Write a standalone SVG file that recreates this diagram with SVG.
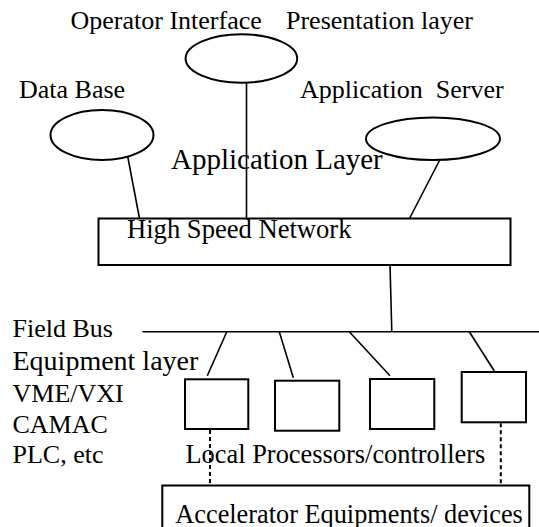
<svg xmlns="http://www.w3.org/2000/svg" width="539" height="527" viewBox="0 0 539 527">
<defs>
<style>
.shape{fill:#fff;stroke:#000;stroke-width:2}
.ln{stroke:#000;stroke-width:1.6;fill:none}
.dash{stroke:#000;stroke-width:2;stroke-dasharray:4 3;fill:none}
</style>
</defs>
<rect width="539" height="527" fill="#fff"/>
<g id="labels">
<text font-family="Liberation Serif" font-size="26" x="70.5" y="29">Operator Interface</text>
<text font-family="Liberation Serif" font-size="26" x="286" y="29">Presentation layer</text>
<text font-family="Liberation Serif" font-size="26" x="19" y="97.5">Data Base</text>
<text font-family="Liberation Serif" font-size="26" x="300" y="98" xml:space="preserve">Application  Server</text>
<text font-family="Liberation Serif" font-size="26" x="12.5" y="336.5">Field Bus</text>
<text font-family="Liberation Serif" font-size="28" x="12.5" y="369.5">Equipment layer</text>
<text font-family="Liberation Serif" font-size="26" x="12.5" y="401.5">VME/VXI</text>
<text font-family="Liberation Serif" font-size="26" x="12.5" y="433">CAMAC</text>
<text font-family="Liberation Serif" font-size="26" x="12.5" y="462.5">PLC, etc</text>
<text font-family="Liberation Serif" font-size="26.4" x="185.5" y="462.5">Local Processors/controllers</text>
</g>
<g id="connectors">
<line class="ln" x1="246.5" y1="82.5" x2="246.5" y2="218.5"/>
<line class="ln" x1="127.8" y1="157" x2="139.5" y2="218.5"/>
<line class="ln" x1="440" y1="159.5" x2="409.5" y2="218.5"/>
<line class="ln" x1="390" y1="265" x2="391.8" y2="331.7"/>
<line class="ln" x1="142.5" y1="331.7" x2="539" y2="331.7"/>
<line class="ln" x1="226.8" y1="331.7" x2="207.3" y2="375.7"/>
<line class="ln" x1="279.3" y1="331.7" x2="293.3" y2="377.7"/>
<line class="ln" x1="349.3" y1="331.7" x2="390" y2="375.7"/>
<line class="ln" x1="469.3" y1="331.7" x2="494.3" y2="371"/>
<line class="dash" x1="210" y1="430" x2="210" y2="485.5"/>
<line class="dash" x1="500.8" y1="423.3" x2="500.8" y2="485.5"/>
</g>
<g id="operator-interface"><ellipse class="shape" cx="241.4" cy="58.5" rx="55.8" ry="24.2"/></g>
<g id="data-base"><ellipse class="shape" cx="102" cy="135" rx="51.5" ry="25"/></g>
<g id="application-server"><ellipse class="shape" cx="433" cy="138.7" rx="67" ry="21.3"/></g>
<g id="application-layer"><text font-family="Liberation Serif" font-size="29" x="171" y="168.5">Application Layer</text></g>
<g id="high-speed-network">
<rect class="shape" x="98.5" y="218.5" width="412" height="46.5"/>
<text font-family="Liberation Serif" font-size="26.6" x="127" y="238">High Speed Network</text>
</g>
<g id="controller-1"><rect class="shape" x="185" y="379.3" width="63.3" height="49.7"/></g>
<g id="controller-2"><rect class="shape" x="275" y="380.7" width="64.3" height="50"/></g>
<g id="controller-3"><rect class="shape" x="370" y="379" width="64.3" height="50"/></g>
<g id="controller-4"><rect class="shape" x="461.7" y="372" width="64.3" height="50.3"/></g>
<g id="accelerator-equipments">
<rect class="shape" x="162.3" y="485.5" width="367" height="60"/>
<text font-family="Liberation Serif" font-size="26.3" x="175.3" y="522.5">Accelerator Equipments/ devices</text>
</g>
</svg>
